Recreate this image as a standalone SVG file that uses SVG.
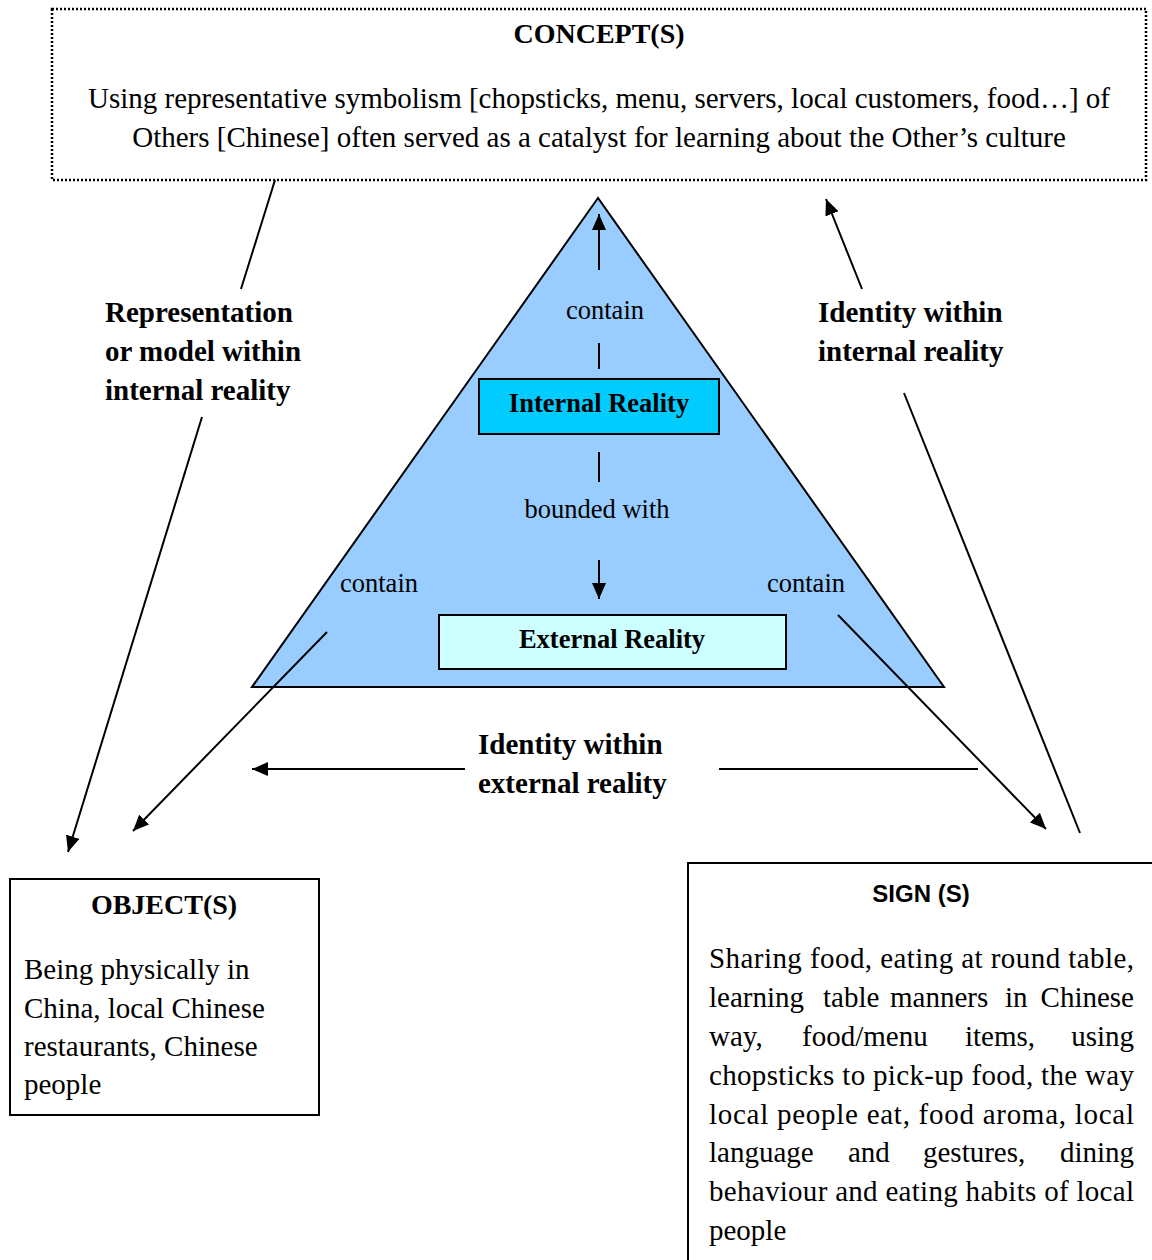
<svg xmlns="http://www.w3.org/2000/svg" width="1152" height="1260" viewBox="0 0 1152 1260">
  <style>
    .serif { font-family: "Liberation Serif", "Times New Roman", serif; fill: #000; }
    .b { font-weight: bold; }
    .t29 { font-size: 29px; }
    .t28 { font-size: 28px; }
    .t26 { font-size: 26.5px; }
    .sans { font-family: "Liberation Sans", Arial, sans-serif; font-weight: bold; font-size: 24px; fill: #000; }
    .edge { stroke: #000; stroke-width: 2; fill: none; }
    .box { fill: #fff; stroke: #000; stroke-width: 2; }
  </style>
  <defs>
    <marker id="arrow" markerUnits="userSpaceOnUse" markerWidth="18" markerHeight="14" refX="16" refY="7" orient="auto">
      <path d="M0,0 L16,7 L0,14 Z" fill="#000"/>
    </marker>
  </defs>
  <rect width="1152" height="1260" fill="#fff"/>

  <!-- Concept box (dotted) -->
  <g id="concept">
    <rect x="52" y="9" width="1094" height="171" fill="#fff" stroke="#000" stroke-width="2.5" stroke-dasharray="2,2"/>
    <text class="serif b t28" x="599" y="43" text-anchor="middle">CONCEPT(S)</text>
    <text class="serif t29" x="599" y="108" text-anchor="middle">Using representative symbolism [chopsticks, menu, servers, local customers, food…] of</text>
    <text class="serif t29" x="599" y="147" text-anchor="middle">Others [Chinese] often served as a catalyst for learning about the Other’s culture</text>
  </g>

  <!-- Reality triangle -->
  <g id="triangle">
    <polygon points="598,198 252,687 944,687" fill="#99CCFF" stroke="#000" stroke-width="2"/>
  </g>

  <g id="internal-reality">
    <rect x="479" y="379" width="240" height="55" fill="#00CCFF" stroke="#000" stroke-width="2"/>
    <text class="serif b t26" x="599" y="412" text-anchor="middle">Internal Reality</text>
  </g>

  <g id="external-reality">
    <rect x="439" y="615" width="347" height="54" fill="#CCFFFF" stroke="#000" stroke-width="2"/>
    <text class="serif b t26" x="612" y="648" text-anchor="middle">External Reality</text>
  </g>

  <!-- Object box -->
  <g id="object">
    <rect class="box" x="10" y="879" width="309" height="236"/>
    <text class="serif b t28" x="164" y="914" text-anchor="middle">OBJECT(S)</text>
    <text class="serif t29" x="24" y="979">Being physically in</text>
    <text class="serif t29" x="24" y="1018">China, local Chinese</text>
    <text class="serif t29" x="24" y="1056">restaurants, Chinese</text>
    <text class="serif t29" x="24" y="1094">people</text>
  </g>

  <!-- Sign box (runs past the right and bottom edges) -->
  <g id="sign">
    <rect class="box" x="688" y="863" width="480" height="420"/>
    <text class="sans" x="921" y="902" text-anchor="middle">SIGN (S)</text>
    <text class="serif t29" x="709" y="968" textLength="425" lengthAdjust="spacing">Sharing food, eating at round table,</text>
    <text class="serif t29" y="1007"><tspan x="709">learning</tspan><tspan x="823">table</tspan><tspan x="890">manners</tspan><tspan x="1005">in</tspan><tspan x="1134" text-anchor="end">Chinese</tspan></text>
    <text class="serif t29" y="1046"><tspan x="709">way,</tspan><tspan x="802">food/menu</tspan><tspan x="965">items,</tspan><tspan x="1134" text-anchor="end">using</tspan></text>
    <text class="serif t29" x="709" y="1085" textLength="425" lengthAdjust="spacing">chopsticks to pick-up food, the way</text>
    <text class="serif t29" x="709" y="1124" textLength="425" lengthAdjust="spacing">local people eat, food aroma, local</text>
    <text class="serif t29" y="1162"><tspan x="709">language</tspan><tspan x="848">and</tspan><tspan x="923">gestures,</tspan><tspan x="1134" text-anchor="end">dining</tspan></text>
    <text class="serif t29" x="709" y="1201" textLength="425" lengthAdjust="spacing">behaviour and eating habits of local</text>
    <text class="serif t29" x="709" y="1240">people</text>
  </g>

  <!-- Connectors and their labels -->
  <g id="connectors">
    <!-- concept to object -->
    <line class="edge" x1="275" y1="180" x2="241" y2="289"/>
    <line class="edge" x1="202" y1="417" x2="68" y2="852" marker-end="url(#arrow)"/>
    <text class="serif b t29" x="105" y="322">Representation</text>
    <text class="serif b t29" x="105" y="361">or model within</text>
    <text class="serif b t29" x="105" y="400">internal reality</text>

    <!-- sign to concept -->
    <line class="edge" x1="862" y1="289" x2="826" y2="199" marker-end="url(#arrow)"/>
    <line class="edge" x1="904" y1="393" x2="1080" y2="833"/>
    <text class="serif b t29" x="818" y="322">Identity within</text>
    <text class="serif b t29" x="818" y="361">internal reality</text>

    <!-- sign to object -->
    <line class="edge" x1="465" y1="769" x2="252" y2="769" marker-end="url(#arrow)"/>
    <line class="edge" x1="719" y1="769" x2="978" y2="769"/>
    <text class="serif b t29" x="478" y="754">Identity within</text>
    <text class="serif b t29" x="478" y="793">external reality</text>

    <!-- inside the triangle -->
    <line class="edge" x1="599" y1="270" x2="599" y2="214" marker-end="url(#arrow)"/>
    <text class="serif t26" x="605" y="319" text-anchor="middle">contain</text>
    <line class="edge" x1="599" y1="343" x2="599" y2="369"/>
    <line class="edge" x1="599" y1="452" x2="599" y2="482"/>
    <text class="serif t26" x="597" y="518" text-anchor="middle">bounded with</text>
    <line class="edge" x1="599" y1="560" x2="599" y2="599" marker-end="url(#arrow)"/>

    <text class="serif t26" x="340" y="592">contain</text>
    <line class="edge" x1="327" y1="632" x2="133" y2="831" marker-end="url(#arrow)"/>
    <text class="serif t26" x="767" y="592">contain</text>
    <line class="edge" x1="838" y1="615" x2="1046" y2="829" marker-end="url(#arrow)"/>
  </g>
</svg>
